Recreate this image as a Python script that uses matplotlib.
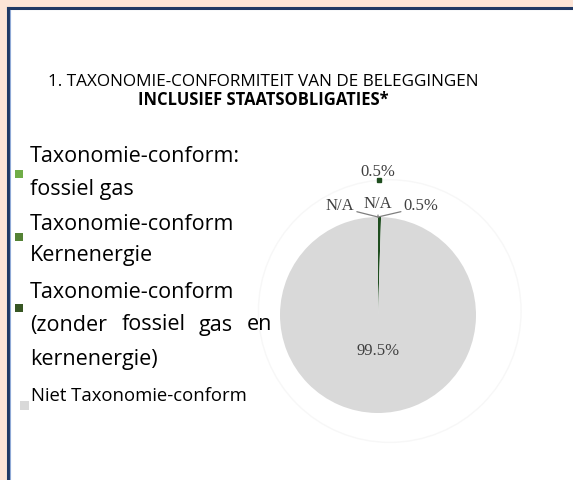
import numpy as np
import matplotlib.pyplot as plt
from matplotlib.patches import Rectangle, Circle
from matplotlib.lines import Line2D

# data
categories = ["Taxonomie-conform: fossiel gas",
              "Taxonomie-conform Kernenergie",
              "Taxonomie-conform (zonder fossiel gas en kernenergie)",
              "Niet Taxonomie-conform"]
values = [0.0, 0.0, 0.5, 99.5]
colors = ["#70AD47", "#548235", "#375623", "#D9D9D9"]
slice_colors = ["#70AD47", "#548235", "#1E4D1E", "#D9D9D9"]
labels_txt = ["N/A", "N/A", "0.5%", "99.5%"]

W, H = 573, 480
fig = plt.figure(figsize=(W / 100, H / 100), dpi=100)
fig.patch.set_facecolor("white")


def fx(x):
    return x / W


def fy(y):
    return 1 - y / H


# page frame
fig.patches.append(Rectangle((0, 0), 1, 1, transform=fig.transFigure,
                             facecolor="#FCE4D6", edgecolor="none", zorder=-3))
fig.patches.append(Rectangle((fx(7), 0), 1, fy(7), transform=fig.transFigure,
                             facecolor="white", edgecolor="none", zorder=-2))
fig.lines.append(Line2D([fx(7.5), fx(7.5)], [0, fy(7.5)], transform=fig.transFigure,
                        color="#1F3864", lw=2.2, zorder=1))
fig.lines.append(Line2D([fx(7.5), 1], [fy(7.5), fy(7.5)], transform=fig.transFigure,
                        color="#1F3864", lw=2.2, zorder=1))
fig.lines.append(Line2D([fx(9.5), fx(9.5)], [0, fy(9.5)], transform=fig.transFigure,
                        color="#8FA9D6", lw=0.8, zorder=1))

# title
tfont = "Open Sans"
fig.text(fx(263), fy(82), "1. TAXONOMIE-CONFORMITEIT VAN DE BELEGGINGEN",
         ha="center", va="center", fontsize=12.3, family=tfont, color="black")
fig.text(fx(263), fy(100), "INCLUSIEF STAATSOBLIGATIES*",
         ha="center", va="center", fontsize=11.9, family=tfont,
         fontweight="bold", color="black")

# legend (manual, as in the document)
lfs = 15.5
legend_rows = [
    (174, [(157, ["Taxonomie-conform:"]), (190, ["fossiel gas"])]),
    (237, [(225, ["Taxonomie-conform"]), (255, ["Kernenergie"])]),
    (308, [(292, ["Taxonomie-conform"]),
           (325, ["(zonder", "fossiel", "gas", "en"]),
           (360, ["kernenergie)"])]),
]
word_x = [30, 122, 199, 247]
for (sq_y, lines), col in zip(legend_rows, colors[:3]):
    fig.patches.append(Rectangle((fx(15), fy(sq_y + 4)), fx(8), 8 / H,
                                 transform=fig.transFigure, facecolor=col,
                                 edgecolor="none"))
    for ly, words in lines:
        for i, w in enumerate(words):
            fig.text(fx(word_x[i] if len(words) > 1 else 30), fy(ly), w,
                     ha="left", va="center", fontsize=lfs, family=tfont)
fig.patches.append(Rectangle((fx(20), fy(410)), fx(9), 9 / H,
                             transform=fig.transFigure, facecolor=colors[3],
                             edgecolor="none"))
fig.text(fx(31), fy(396), categories[3], ha="left", va="center",
         fontsize=13.3, family=tfont)

# pie
r = 98
cx, cy = 378, 315
ax = fig.add_axes([fx(cx - r), fy(cy + r), 2 * r / W, 2 * r / H])
ax.set_zorder(2)
ax.patch.set_visible(False)
ax.pie(values, colors=slice_colors, startangle=90, counterclock=False,
       radius=1, wedgeprops=dict(linewidth=0))
ax.set_xlim(-1, 1)
ax.set_ylim(-1, 1)
ax.set_axis_off()

# faint outer ring of the chart area
ax.add_patch(Circle((0.12, 0.04), 1.34, fill=False, edgecolor="#F7F7F7",
                    lw=1.0, clip_on=False))

lfont = dict(family="Liberation Serif", fontsize=12, color="#404040")
lab = dict(annotation_clip=False, **lfont)
ax.annotate(labels_txt[0], xy=(0, 1.0), xytext=(-0.39, 1.11),
            ha="center", va="center",
            arrowprops=dict(arrowstyle="-", color="#7F7F7F", lw=0.9,
                            shrinkA=0, shrinkB=0, relpos=(1.0, 0.2)), **lab)
ax.annotate(labels_txt[1], xy=(0, 1.0), xytext=(0.0, 1.13),
            ha="center", va="center",
            arrowprops=dict(arrowstyle="-", color="#7F7F7F", lw=0.9,
                            shrinkA=0, shrinkB=0, relpos=(0.5, 0.0)), **lab)
ax.annotate(labels_txt[2], xy=(0, 1.0), xytext=(0.44, 1.11),
            ha="center", va="center",
            arrowprops=dict(arrowstyle="-", color="#7F7F7F", lw=0.9,
                            shrinkA=0, shrinkB=0, relpos=(0.0, 0.2)), **lab)
ax.text(0.0, 1.46, labels_txt[2], ha="center", va="center", clip_on=False,
        **lfont)
ax.plot([0.01], [1.38], marker="s", ms=2.5, color=slice_colors[2], clip_on=False)
ax.text(0.0, -0.37, labels_txt[3], ha="center", va="center", **lfont)

fig.savefig("out.png", dpi=100)
